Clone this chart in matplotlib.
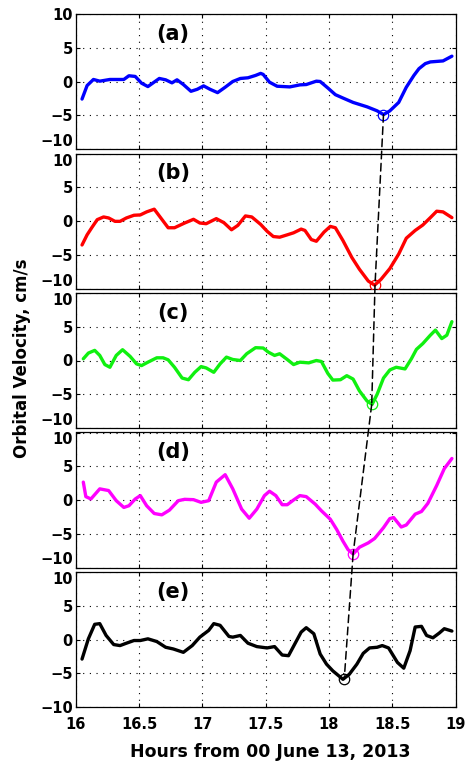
import matplotlib
matplotlib.use("Agg")
import matplotlib.pyplot as plt
from matplotlib.patches import ConnectionPatch

# ---------------- data ----------------
xa = [16.05, 16.09, 16.14, 16.19, 16.27, 16.38, 16.42, 16.47, 16.52, 16.57, 16.66, 16.71, 16.76,
      16.80, 16.85, 16.91, 16.96, 17.01, 17.06, 17.12, 17.18, 17.24, 17.30, 17.36, 17.42, 17.46,
      17.48, 17.53, 17.59, 17.64, 17.69, 17.77, 17.82, 17.90, 17.93, 17.99, 18.05, 18.11, 18.19,
      18.30, 18.38, 18.43, 18.48, 18.55, 18.61, 18.67, 18.71, 18.76, 18.80, 18.90, 18.97]
ya = [-2.6, -0.6, 0.3, 0.05, 0.3, 0.3, 0.85, 0.75, -0.25, -0.75, 0.45, 0.25, -0.2,
      0.25, -0.45, -1.45, -1.15, -0.65, -1.15, -1.65, -0.85, 0.0, 0.45, 0.55, 0.9, 1.2,
      1.05, -0.1, -0.7, -0.75, -0.8, -0.5, -0.45, 0.05, 0.0, -0.95, -1.95, -2.45, -3.1,
      -3.75, -4.35, -4.9, -4.35, -3.1, -0.85, 0.9, 1.9, 2.65, 2.9, 3.05, 3.75]

xb = [16.05, 16.09, 16.13, 16.17, 16.22, 16.26, 16.31, 16.35, 16.40, 16.46, 16.51, 16.56, 16.62,
      16.68, 16.73, 16.78, 16.86, 16.93, 16.98, 17.03, 17.11, 17.17, 17.23, 17.28, 17.34, 17.39,
      17.46, 17.51, 17.56, 17.61, 17.67, 17.72, 17.78, 17.81, 17.86, 17.90, 17.96, 18.01, 18.05,
      18.11, 18.18, 18.24, 18.31, 18.36, 18.41, 18.48, 18.55, 18.61, 18.68, 18.74, 18.80, 18.85,
      18.90, 18.97]
yb = [-3.55, -2.05, -0.9, 0.2, 0.6, 0.45, -0.05, -0.05, 0.45, 0.85, 0.9, 1.35, 1.75,
      0.25, -1.0, -1.0, -0.3, 0.25, -0.3, -0.4, 0.35, -0.25, -1.3, -0.65, 0.75, 0.6,
      -0.5, -1.5, -2.3, -2.4, -2.05, -1.75, -1.2, -1.4, -2.75, -3.0, -1.65, -0.8, -1.0,
      -2.9, -5.4, -7.15, -8.9, -9.5, -8.65, -7.05, -4.9, -2.55, -1.4, -0.6, 0.5, 1.45,
      1.35, 0.5]

xc = [16.06, 16.10, 16.15, 16.19, 16.23, 16.27, 16.32, 16.37, 16.43, 16.48, 16.52, 16.57, 16.64,
      16.69, 16.73, 16.78, 16.84, 16.89, 16.94, 16.99, 17.03, 17.09, 17.14, 17.19, 17.24, 17.30,
      17.35, 17.42, 17.48, 17.52, 17.57, 17.61, 17.67, 17.72, 17.77, 17.84, 17.90, 17.94, 17.99,
      18.03, 18.09, 18.14, 18.19, 18.24, 18.30, 18.34, 18.38, 18.43, 18.48, 18.53, 18.60, 18.65,
      18.69, 18.74, 18.80, 18.84, 18.89, 18.93, 18.97]
yc = [0.25, 1.1, 1.5, 0.75, -0.6, -1.0, 0.75, 1.6, 0.6, -0.5, -0.75, -0.25, 0.4,
      0.4, 0.1, -1.0, -2.6, -2.85, -1.75, -0.9, -1.1, -1.75, -0.5, 0.5, 0.15, 0.0,
      1.0, 1.9, 1.85, 1.25, 0.75, 1.0, 0.15, -0.6, -0.25, -0.35, 0.0, -0.15, -1.9,
      -2.9, -2.85, -2.25, -2.75, -4.5, -6.0, -6.5, -5.0, -2.6, -1.4, -1.0, -1.25, 0.25,
      1.65, 2.5, 3.75, 4.5, 3.25, 3.75, 5.75]

xd = [16.06, 16.08, 16.12, 16.19, 16.26, 16.32, 16.38, 16.42, 16.47, 16.51, 16.56, 16.62, 16.68,
      16.74, 16.81, 16.86, 16.93, 16.99, 17.05, 17.11, 17.18, 17.24, 17.31, 17.37, 17.43, 17.49,
      17.53, 17.58, 17.63, 17.67, 17.72, 17.77, 17.82, 17.89, 17.94, 18.01, 18.06, 18.11, 18.15,
      18.19, 18.24, 18.31, 18.36, 18.43, 18.48, 18.51, 18.57, 18.61, 18.68, 18.73, 18.78, 18.85,
      18.91, 18.97]
yd = [2.65, 0.5, 0.15, 1.65, 1.4, -0.1, -1.1, -0.85, 0.15, 0.65, -0.85, -2.0, -2.2,
      -1.5, -0.1, 0.1, 0.05, -0.35, -0.1, 2.65, 3.75, 1.65, -1.35, -2.7, -1.35, 0.65,
      1.3, 0.65, -0.7, -0.7, 0.0, 0.65, 0.5, -0.6, -1.6, -2.85, -4.35, -6.1, -7.35,
      -8.0, -7.0, -6.35, -5.7, -4.1, -2.75, -2.6, -4.0, -3.7, -2.1, -1.7, -0.5, 2.15,
      4.65, 6.15]

xe = [16.05, 16.10, 16.15, 16.19, 16.24, 16.30, 16.35, 16.40, 16.46, 16.51, 16.57, 16.64, 16.71,
      16.77, 16.85, 16.92, 16.98, 17.05, 17.09, 17.14, 17.21, 17.24, 17.30, 17.36, 17.43, 17.51,
      17.57, 17.63, 17.68, 17.73, 17.78, 17.82, 17.88, 17.93, 17.98, 18.03, 18.11, 18.16, 18.22,
      18.27, 18.32, 18.38, 18.42, 18.47, 18.54, 18.59, 18.64, 18.68, 18.73, 18.77, 18.82, 18.87,
      18.91, 18.97]
ye = [-2.9, 0.1, 2.25, 2.35, 0.6, -0.75, -0.9, -0.55, -0.15, -0.15, 0.1, -0.3, -1.15,
      -1.4, -1.9, -0.9, 0.35, 1.35, 2.35, 2.1, 0.45, 0.35, 0.6, -0.55, -1.05, -1.25,
      -1.05, -2.3, -2.4, -0.65, 1.1, 1.75, 0.85, -2.15, -3.65, -4.65, -5.9, -5.15, -3.65,
      -2.05, -1.25, -1.15, -0.9, -1.25, -3.4, -4.25, -1.65, 1.85, 1.95, 0.6, 0.25, 0.95,
      1.6, 1.25]

# minima marked with circles, joined by dashed line
min_x = [18.43, 18.363, 18.337, 18.19, 18.12]
min_y = [-4.9, -9.5, -6.5, -8.0, -5.9]

panel_labels = ["(a)", "(b)", "(c)", "(d)", "(e)"]
yticks = [-10, -5, 0, 5, 10]
xticks = [16, 16.5, 17, 17.5, 18, 18.5, 19]
xticklabels = ["16", "16.5", "17", "17.5", "18", "18.5", "19"]
xlabel = "Hours from 00 June 13, 2013"
ylabel = "Orbital Velocity, cm/s"

series = [(xa, ya), (xb, yb), (xc, yc), (xd, yd), (xe, ye)]
colors = ["#0000ff", "#ff0000", "#10f010", "#ff00ff", "#000000"]

# ---------------- figure ----------------
plt.rcParams['font.family'] = ['DejaVu Sans']
W, H = 474, 764
fig = plt.figure(figsize=(W / 100, H / 100), dpi=100)

left_px, right_px = 75.7, 455.7
top0, step, hpx = 14.0, 139.5, 135.0

axes = []
for i, ((x, y), c) in enumerate(zip(series, colors)):
    top = top0 + i * step
    ax = fig.add_axes([left_px / W, 1 - (top + hpx) / H, (right_px - left_px) / W, hpx / H])
    ax.plot(x, y, color=c, lw=2.4, solid_capstyle='round', solid_joinstyle='round', zorder=3)
    ax.plot([min_x[i]], [min_y[i]], 'o', mfc='none', mec=c, ms=7.5, mew=0.9, zorder=4)
    ax.set_xlim(16, 19)
    ax.set_ylim(-10, 10)
    ax.set_yticks(yticks)
    ax.set_yticklabels([str(v).replace('-', '\u2212') for v in yticks])
    ax.set_xticks(xticks)
    ax.grid(True, color='black', linestyle=(0, (1, 5)), linewidth=0.8)
    ax.tick_params(direction='in', length=3, width=0.8, top=True, right=True,
                   labelsize=10.5, pad=2)
    for lab in ax.get_yticklabels():
        lab.set_fontweight('bold')
    ylabs = ax.get_yticklabels()
    if i > 0:
        ylabs[-1].set_verticalalignment('top')
    if i < 4:
        ylabs[0].set_verticalalignment('bottom')
    if i < 4:
        ax.set_xticklabels([])
    else:
        ax.set_xticklabels(xticklabels, fontweight='bold', fontsize=10.5)
        ax.tick_params(axis='x', pad=7)
    for s in ax.spines.values():
        s.set_linewidth(0.9)
    ax.text(16.77, 7.1, panel_labels[i], fontsize=15, fontweight='bold',
            ha='center', va='center')
    axes.append(ax)

# dashed line joining the minima across panels
for i in range(4):
    con = ConnectionPatch(xyA=(min_x[i], min_y[i]), coordsA=axes[i].transData,
                          xyB=(min_x[i + 1], min_y[i + 1]), coordsB=axes[i + 1].transData,
                          color='black', linestyle=(0, (5, 3)), linewidth=1.1, zorder=10)
    fig.add_artist(con)

fig.text(270 / W, 1 - 752 / H, xlabel, ha='center', va='center', fontsize=12.5, fontweight='bold')
fig.text(22 / W, 1 - 358 / H, ylabel, ha='center', va='center', rotation=90,
         fontsize=12, fontweight='bold')

fig.savefig("out.png", dpi=100)
